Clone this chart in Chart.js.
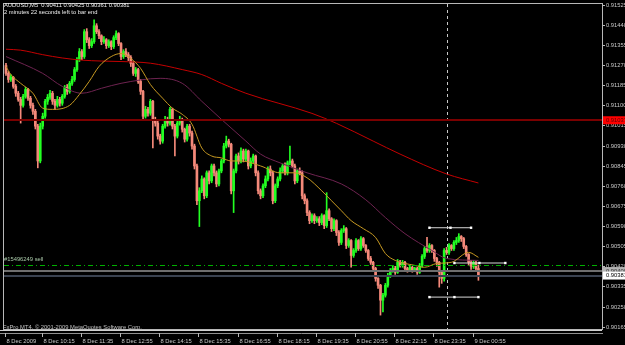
<!DOCTYPE html>
<html>
<head>
<meta charset="utf-8">
<script src="https://cdn.jsdelivr.net/npm/chart.js@4.4.1/dist/chart.umd.min.js"></script>
<style>
  html, body { margin: 0; padding: 0; background: #000; }
  #wrap { width: 625px; height: 345px; }
</style>
</head>
<body>
<div id="wrap"><canvas id="chart" width="625" height="345"></canvas></div>
<script>
// AUDUSD M5, 8 Dec 2009 09:00 .. 9 Dec 01:05, prices in points (1 = 0.00001)
const opens = [
  91268, 91235, 91209, 91218, 91180, 91151, 91125, 91100, 91138, 91167,
  91130, 91100, 91075, 91012, 90865, 91012, 91054, 91117, 91134, 91151,
  91117, 91100, 91125, 91109, 91138, 91176, 91159, 91193, 91209, 91251,
  91293, 91327, 91306, 91411, 91377, 91352, 91369, 91436, 91411, 91394,
  91369, 91377, 91352, 91369, 91348, 91386, 91403, 91361, 91306, 91327,
  91314, 91302, 91277, 91235, 91251, 91201, 91159, 91054, 91083, 91067,
  91117, 91041, 91025, 90970, 90949, 91012, 91041, 91025, 91083, 91012,
  90970, 91025, 91041, 90999, 90957, 91012, 90983, 90928, 90844, 90697,
  90739, 90789, 90718, 90815, 90781, 90844, 90815, 90768, 90823, 90865,
  90928, 90949, 90936, 90739, 90823, 90886, 90865, 90907, 90873, 90907,
  90844, 90865, 90886, 90815, 90739, 90718, 90760, 90789, 90831, 90815,
  90697, 90760, 90789, 90823, 90844, 90815, 90857, 90865, 90844, 90781,
  90823, 90815, 90718, 90697, 90647, 90613, 90634, 90613, 90621, 90605,
  90634, 90592, 90655, 90621, 90579, 90613, 90563, 90521, 90571, 90579,
  90508, 90529, 90466, 90487, 90529, 90495, 90537, 90508, 90487, 90453,
  90437, 90411, 90369, 90340, 90277, 90298, 90340, 90382, 90403, 90411,
  90395, 90437, 90424, 90437, 90411, 90403, 90416, 90403, 90411, 90395,
  90424, 90462, 90495, 90487, 90508, 90487, 90453, 90437, 90395, 90369,
  90487, 90479, 90508, 90495, 90521, 90529, 90546, 90537, 90504, 90470,
  90437, 90420, 90437, 90411
];
const highs = [
  91277, 91243, 91230, 91222, 91188, 91159, 91134, 91146, 91176, 91172,
  91138, 91109, 91083, 91020, 91025, 91067, 91125, 91146, 91163, 91159,
  91125, 91138, 91134, 91146, 91184, 91188, 91201, 91222, 91260, 91302,
  91340, 91335, 91420, 91424, 91386, 91382, 91461, 91445, 91420, 91398,
  91390, 91382, 91377, 91373, 91394, 91415, 91407, 91365, 91335, 91340,
  91323, 91310, 91285, 91260, 91256, 91209, 91163, 91096, 91092, 91125,
  91121, 91050, 91033, 90978, 91020, 91054, 91050, 91092, 91088, 91020,
  91033, 91054, 91046, 91004, 91020, 91020, 90991, 90936, 90852, 90752,
  90802, 90794, 90823, 90823, 90852, 90852, 90823, 90831, 90873, 90940,
  90970, 90957, 90940, 90831, 90894, 90899, 90920, 90915, 90915, 90911,
  90878, 90894, 90890, 90823, 90747, 90768, 90802, 90840, 90844, 90823,
  90768, 90798, 90836, 90852, 90857, 90865, 90928, 90873, 90852, 90831,
  90836, 90823, 90726, 90705, 90655, 90642, 90642, 90630, 90630, 90642,
  90638, 90731, 90663, 90626, 90621, 90617, 90571, 90579, 90592, 90584,
  90537, 90533, 90495, 90537, 90533, 90546, 90542, 90512, 90491, 90462,
  90441, 90416, 90373, 90344, 90306, 90348, 90390, 90411, 90424, 90420,
  90449, 90445, 90445, 90441, 90416, 90424, 90420, 90416, 90416, 90432,
  90470, 90504, 90542, 90516, 90512, 90491, 90458, 90441, 90403, 90495,
  90500, 90516, 90512, 90529, 90542, 90558, 90550, 90542, 90508, 90474,
  90445, 90445, 90441, 90425
];
const lows = [
  91226, 91197, 91201, 91172, 91138, 91117, 91025, 91092, 91130, 91121,
  91088, 91062, 91000, 90836, 90857, 91000, 91046, 91104, 91125, 91104,
  91083, 91092, 91096, 91100, 91130, 91146, 91151, 91184, 91201, 91243,
  91285, 91293, 91298, 91365, 91340, 91344, 91361, 91403, 91382, 91356,
  91361, 91340, 91344, 91335, 91340, 91377, 91352, 91293, 91298, 91306,
  91289, 91264, 91226, 91222, 91193, 91146, 91041, 91046, 91054, 91058,
  90920, 91012, 90957, 90936, 90940, 91004, 91012, 91016, 91000, 90886,
  90962, 91016, 90987, 90945, 90949, 90970, 90915, 90831, 90680, 90588,
  90731, 90705, 90710, 90768, 90773, 90802, 90756, 90760, 90815, 90857,
  90920, 90924, 90726, 90647, 90815, 90852, 90857, 90861, 90865, 90831,
  90836, 90857, 90802, 90726, 90705, 90710, 90752, 90781, 90802, 90684,
  90689, 90752, 90781, 90815, 90806, 90806, 90848, 90836, 90768, 90773,
  90806, 90705, 90684, 90634, 90600, 90605, 90600, 90605, 90592, 90596,
  90579, 90584, 90613, 90567, 90571, 90550, 90508, 90512, 90563, 90495,
  90500, 90416, 90458, 90479, 90487, 90487, 90500, 90479, 90445, 90428,
  90403, 90357, 90327, 90214, 90227, 90290, 90332, 90373, 90395, 90386,
  90390, 90416, 90416, 90403, 90395, 90399, 90395, 90399, 90386, 90390,
  90416, 90453, 90479, 90479, 90479, 90441, 90420, 90332, 90348, 90357,
  90470, 90470, 90487, 90487, 90512, 90521, 90525, 90495, 90462, 90424,
  90407, 90411, 90399, 90361
];
const closes = [
  91235, 91209, 91218, 91180, 91151, 91125, 91100, 91138, 91167, 91130,
  91100, 91075, 91012, 90865, 91012, 91054, 91117, 91134, 91151, 91117,
  91100, 91125, 91109, 91138, 91176, 91159, 91193, 91209, 91251, 91293,
  91327, 91306, 91411, 91377, 91352, 91369, 91436, 91411, 91394, 91369,
  91377, 91352, 91369, 91348, 91386, 91403, 91361, 91306, 91327, 91314,
  91302, 91277, 91235, 91251, 91201, 91159, 91054, 91083, 91067, 91117,
  91041, 91025, 90970, 90949, 91012, 91041, 91025, 91083, 91012, 90970,
  91025, 91041, 90999, 90957, 91012, 90983, 90928, 90844, 90697, 90739,
  90789, 90718, 90815, 90781, 90844, 90815, 90768, 90823, 90865, 90928,
  90949, 90936, 90739, 90823, 90886, 90865, 90907, 90873, 90907, 90844,
  90865, 90886, 90815, 90739, 90718, 90760, 90789, 90831, 90815, 90697,
  90760, 90789, 90823, 90844, 90815, 90857, 90865, 90844, 90781, 90823,
  90815, 90718, 90697, 90647, 90613, 90634, 90613, 90621, 90605, 90634,
  90592, 90655, 90621, 90579, 90613, 90563, 90521, 90571, 90579, 90508,
  90529, 90466, 90487, 90529, 90495, 90537, 90508, 90487, 90453, 90437,
  90411, 90369, 90340, 90277, 90298, 90340, 90382, 90403, 90411, 90395,
  90437, 90424, 90437, 90411, 90403, 90416, 90403, 90411, 90395, 90424,
  90462, 90495, 90487, 90508, 90487, 90453, 90437, 90395, 90369, 90487,
  90479, 90508, 90495, 90521, 90529, 90546, 90537, 90504, 90470, 90437,
  90420, 90437, 90411, 90381
];

// moving averages (bar index -> value)
const maSlowBars = [0, 6, 15, 23, 31, 39, 47, 59, 72, 80, 88, 98, 125, 135, 150, 161, 180, 193];
const maSlow = [91337, 91333, 91314, 91300, 91291, 91287, 91285, 91278, 91251, 91230, 91193, 91151, 91066, 91024, 90949, 90894, 90810, 90772];
const maMidBars = [0, 15, 23, 31, 39, 47, 63, 72, 80, 88, 98, 104, 112, 123, 137, 147, 155, 163, 174, 180, 193];
const maMid = [91306, 91235, 91180, 91151, 91172, 91193, 91214, 91193, 91117, 91041, 90949, 90894, 90857, 90815, 90768, 90701, 90626, 90558, 90487, 90453, 90445];
const maFastBars = [0, 2, 6, 11, 15, 19, 26, 30, 34, 38, 43, 47, 51, 55, 59, 64, 68, 72, 76, 80, 84, 88, 92, 96, 104, 112, 118, 123, 129, 133, 137, 141, 146, 151, 155, 159, 167, 171, 176, 182, 189, 193];
const maFast = [91264, 91230, 91193, 91151, 91088, 91083, 91100, 91146, 91201, 91264, 91306, 91319, 91298, 91256, 91188, 91130, 91088, 91062, 91020, 90920, 90886, 90878, 90865, 90865, 90844, 90815, 90815, 90794, 90739, 90697, 90655, 90613, 90579, 90542, 90474, 90445, 90424, 90416, 90432, 90437, 90479, 90458];

// drawn objects: horizontal segments with handles
const objLevels = [90583, 90434, 90290];
const objBars = [[173, 181.6, 190], [183.2, 193.4, 204], [173, 183.2, 193]];

const hLine = 91037;      // horizontal line
const orderPrice = 90427; // #15496249 sell
const askPrice = 90400;
const bidPrice = 90381;
const separatorBar = 180; // 9 Dec 00:00

const priceTickLabels = ['0.91525', '0.91440', '0.91355', '0.91270', '0.91185', '0.91100', '0.91015', '0.90930',
  '0.90845', '0.90760', '0.90675', '0.90590', '0.90505', '0.90420', '0.90335', '0.90250', '0.90165'];
const timeTickBars = [0, 15, 31, 47, 63, 79, 95, 111, 127, 143, 159, 175, 191];
const timeTickLabels = ['8 Dec 2009', '8 Dec 10:15', '8 Dec 11:35', '8 Dec 12:55', '8 Dec 14:15', '8 Dec 15:35',
  '8 Dec 16:55', '8 Dec 18:15', '8 Dec 19:35', '8 Dec 20:55', '8 Dec 22:15', '8 Dec 23:35', '9 Dec 00:55'];

const BULL = '#22ff22';
const BEAR = '#f4897a';
const FONT = '5.8px "Liberation Sans", Arial, sans-serif';

const candleColors = closes.map((c, i) => (c >= opens[i] ? BULL : BEAR));
const pts = (bars, vals) => bars.map((b, i) => ({ x: b, y: vals[i] }));

const datasets = [
  {
    type: 'bar', label: 'wicks', order: 6,
    data: opens.map((o, i) => ({ x: i, y: [lows[i], highs[i]] })),
    backgroundColor: candleColors, barThickness: 1, grouped: false
  },
  {
    type: 'bar', label: 'bodies', order: 5,
    data: opens.map((o, i) => ({ x: i, y: [o, closes[i]] })),
    backgroundColor: candleColors, barThickness: 2, grouped: false, minBarLength: 1
  },
  { type: 'line', label: 'slow', order: 3, data: pts(maSlowBars, maSlow), borderColor: '#c40000', borderWidth: 1, pointRadius: 0, cubicInterpolationMode: 'monotone' },
  { type: 'line', label: 'mid', order: 2, data: pts(maMidBars, maMid), borderColor: '#6e2350', borderWidth: 1, pointRadius: 0, cubicInterpolationMode: 'monotone' },
  { type: 'line', label: 'fast', order: 1, data: pts(maFastBars, maFast), borderColor: '#c89a22', borderWidth: 1, pointRadius: 0, cubicInterpolationMode: 'monotone' }
];
objLevels.forEach((lvl, k) => {
  datasets.push({
    type: 'line', label: 'obj' + k, order: 0,
    data: objBars[k].map(b => ({ x: b, y: lvl })),
    borderColor: '#d8d8d8', borderWidth: 1,
    pointStyle: 'rect', pointRadius: 1.7, pointBackgroundColor: '#ffffff', pointBorderWidth: 0
  });
});

const mt4 = {
  id: 'mt4',
  beforeDraw(chart) {
    const c = chart.ctx;
    c.save();
    c.fillStyle = '#000';
    c.fillRect(0, 0, chart.width, chart.height);
    c.restore();
  },
  beforeDatasetsDraw(chart) {
    const { ctx: c, chartArea: a, scales: { x } } = chart;
    const px = Math.round(x.getPixelForValue(separatorBar)) + 0.5;
    c.save();
    c.strokeStyle = '#c8c8c8';
    c.lineWidth = 1;
    c.setLineDash([3, 3]);
    c.beginPath(); c.moveTo(px, a.top); c.lineTo(px, a.bottom); c.stroke();
    c.restore();
  },
  afterDatasetsDraw(chart) {
    const { ctx: c, chartArea: a, scales: { x, y } } = chart;
    const line = (price, color, width, dash) => {
      const py = Math.round(y.getPixelForValue(price)) + (width % 2 ? 0.5 : 0);
      c.save();
      c.strokeStyle = color; c.lineWidth = width; c.setLineDash(dash || []);
      c.beginPath(); c.moveTo(a.left, py); c.lineTo(a.right, py); c.stroke();
      c.restore();
    };
    line(hLine, '#7a0000', 2);
    line(orderPrice, '#00b000', 1, [5, 3, 1, 3]);
    line(askPrice, '#6e6e6e', 2);
    line(bidPrice, '#3a4250', 2);

    c.save();
    c.font = FONT;
    c.textBaseline = 'middle';
    c.fillStyle = '#a8c8a8';
    c.fillText('#15496249 sell', 4, y.getPixelForValue(orderPrice) - 5.5);

    // frame
    c.strokeStyle = '#b8b8b8';
    c.lineWidth = 1;
    c.strokeRect(a.left - 0.5, a.top - 0.5, a.right - a.left + 1, a.bottom - a.top + 1);
    c.strokeStyle = '#d0d0d0';
    c.beginPath(); c.moveTo(0, a.bottom + 1.5); c.lineTo(a.right, a.bottom + 1.5); c.stroke();
    c.strokeStyle = '#909090';
    c.beginPath(); c.moveTo(0, a.bottom + 4.5); c.lineTo(a.right + 1, a.bottom + 4.5); c.stroke();

    // price scale
    c.fillStyle = '#c8c8c8';
    c.strokeStyle = '#b8b8b8';
    priceTickLabels.forEach(lab => {
      const py = Math.round(y.getPixelForValue(parseFloat(lab) * 1e5)) + 0.5;
      c.beginPath(); c.moveTo(a.right, py); c.lineTo(a.right + 3, py); c.stroke();
      c.fillText(lab, a.right + 4, py);
    });
    const box = (price, bg, fg, text) => {
      const py = y.getPixelForValue(price);
      c.fillStyle = bg;
      c.fillRect(a.right + 1, py - 4, chart.width - a.right - 1, 8);
      c.fillStyle = fg;
      c.fillText(text, a.right + 4, py + 0.3);
    };
    box(hLine, '#ff0000', '#5a0000', '0.91037');
    box(askPrice, '#b4b4b4', '#303030', '0.90400');
    box(bidPrice, '#ffffff', '#000000', '0.90381');

    // time scale
    c.fillStyle = '#c8c8c8';
    c.strokeStyle = '#b8b8b8';
    const ty = a.bottom + 4;
    timeTickBars.forEach((b, i) => {
      const px = Math.round(x.getPixelForValue(b)) - 0.5;
      c.beginPath(); c.moveTo(px, ty); c.lineTo(px, ty + 4); c.stroke();
      c.fillText(timeTickLabels[i], px + 1, ty + 8);
    });

    // texts
    c.fillStyle = '#eeeeee';
    c.fillText('AUDUSD,M5  0.90411 0.90425 0.90361 0.90381', 4, 5.5);
    c.fillText('2 minutes 22 seconds left to bar end', 4, 12.5);
    c.fillStyle = '#c0c0c0';
    c.fillText('FxPro MT4, \u00a9 2001-2009 MetaQuotes Software Corp.', 3, a.bottom - 2);
    c.restore();
  }
};

new Chart(document.getElementById('chart'), {
  type: 'bar',
  data: { datasets },
  options: {
    responsive: false,
    animation: false,
    devicePixelRatio: 1,
    layout: { padding: { left: 2, right: 23, top: 2, bottom: 16 } },
    plugins: { legend: { display: false }, tooltip: { enabled: false } },
    scales: {
      x: { type: 'linear', min: -0.81, max: 243.49, display: false, offset: false },
      y: { type: 'linear', min: 90155.3, max: 91528, display: false }
    }
  },
  plugins: [mt4]
});
</script>
</body>
</html>
